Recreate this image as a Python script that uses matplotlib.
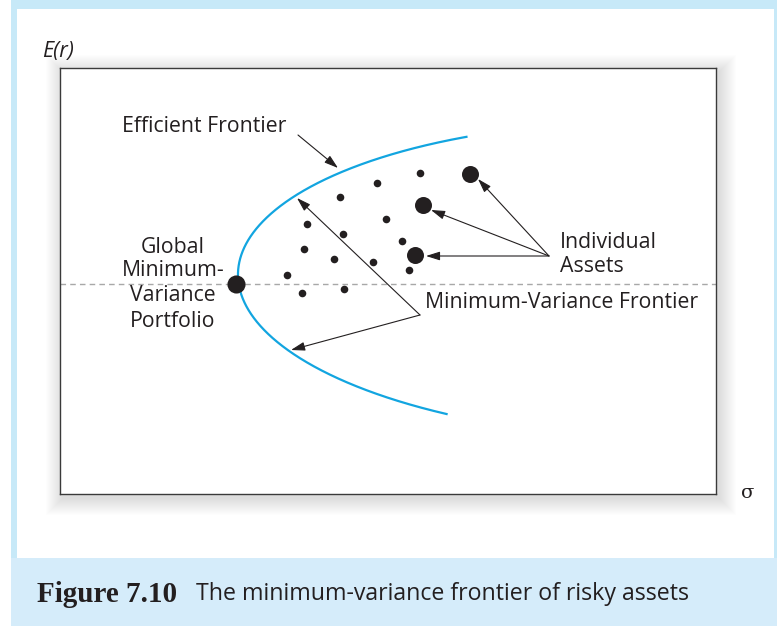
import numpy as np
import matplotlib
matplotlib.use("Agg")
import matplotlib.pyplot as plt
from matplotlib.patches import Rectangle

# ---------------- data (sigma, E(r)) in arbitrary chart units ----------------
frontier_sigma = [40.67, 37.67, 34.33, 31.0, 28.0, 26.0, 24.0, 22.33, 20.67, 19.33, 18.33, 17.67,
                  17.6,
                  18.0, 19.0, 20.67, 23.17, 25.67, 28.67, 32.0, 35.33, 38.67]
frontier_ret = [35.57, 35.13, 34.4, 33.4, 32.4, 31.23, 29.9, 28.73, 27.4, 25.73, 23.73, 21.4,
                21.0,
                19.4, 17.73, 16.07, 14.4, 12.73, 11.23, 9.9, 8.9, 7.9]

small_sigma = [36.0, 31.67, 28.0, 24.67, 32.57, 28.27, 34.23, 24.4, 27.43, 31.27, 34.93, 22.73, 24.23, 28.4]
small_ret = [32.13, 31.07, 29.73, 26.97, 27.5, 26.0, 25.33, 24.53, 23.5, 23.2, 22.37, 21.87, 20.13, 20.5]

large_sigma = [40.95, 36.3, 35.5]
large_ret = [32.05, 28.9, 23.87]

gmv_sigma = 17.6
gmv_ret = 21.0

W, H = 777, 626
fig = plt.figure(figsize=(W / 100, H / 100), dpi=100)
fig.patch.set_facecolor("white")

def fx(x):
    return x / W

def fy(y):
    return 1 - y / H

# ---------------- page decoration ----------------
frame_col = "#c7e9f8"
band_col = "#d5ecfa"
fig.patches.append(Rectangle((fx(11), fy(626)), fx(777 - 11), 626 / H, transform=fig.transFigure,
                             facecolor=frame_col, edgecolor="none", zorder=0))
fig.patches.append(Rectangle((fx(17), fy(558)), fx(777 - 17 - 3), (558 - 9) / H, transform=fig.transFigure,
                             facecolor="white", edgecolor="none", zorder=0.5))
fig.patches.append(Rectangle((fx(11), fy(626)), fx(777 - 11), (626 - 558) / H, transform=fig.transFigure,
                             facecolor=band_col, edgecolor="none", zorder=0.6))

# soft shadow behind the plot box
for i in range(1, 18):
    x0 = 60 + 3 - i
    fig.patches.append(Rectangle((fx(x0), fy(494 + 4 + i)), fx(656 + 2 * i), (426 + 2 * i) / H,
                                 transform=fig.transFigure, facecolor="black", edgecolor="none",
                                 alpha=0.009, zorder=0.7))

# ---------------- axes ----------------
ax = fig.add_axes([fx(60), fy(494), fx(656), 426 / H])
ax.set_xlim(0, 65.6)
ax.set_ylim(0, 42.6)
ax.set_xticks([])
ax.set_yticks([])
ax.set_facecolor("white")
for s in ax.spines.values():
    s.set_color("#3a3a3a")
    s.set_linewidth(1.0)
ax.set_zorder(2)

ink = "#231f20"
blue = "#12a5e0"

# dashed line through GMV
ax.axhline(gmv_ret, color="#a8a8a8", lw=1.0, dashes=(4, 3), zorder=1)

# smooth frontier: least-squares conic through the read points
xs = np.array(frontier_sigma)
ys = np.array(frontier_ret)
xm, ym = xs.mean(), ys.mean()
X, Y = xs - xm, ys - ym
M = np.column_stack([X ** 2, X * Y, Y ** 2, X, Y, np.ones_like(X)])
_, _, Vt = np.linalg.svd(M)
A, B, C, D, E, F = Vt[-1]
yy = np.linspace(ys.min() - 0.6, ys.max() + 0.8, 4000)
Yg = yy - ym
qa = A
qb = B * Yg + D
qc = C * Yg ** 2 + E * Yg + F
disc = np.clip(qb ** 2 - 4 * qa * qc, 0, None)
r1 = (-qb + np.sqrt(disc)) / (2 * qa) + xm
r2 = (-qb - np.sqrt(disc)) / (2 * qa) + xm
order = np.argsort(ys)
guess = np.interp(yy, ys[order], xs[order])
xx = np.where(np.abs(r1 - guess) < np.abs(r2 - guess), r1, r2)
# trim each branch where it reaches the read end points
upper_end = xs[np.argmax(ys)]
lower_end = xs[np.argmin(ys)]
keep = np.where(yy >= gmv_ret, xx <= upper_end, xx <= lower_end)
ax.plot(xx[keep], yy[keep], color=blue, lw=1.6, zorder=3)

# points
ax.scatter(small_sigma, small_ret, s=30, color=ink, zorder=4, linewidths=0)
ax.scatter(large_sigma, large_ret, s=150, color=ink, zorder=4, linewidths=0)
ax.scatter([gmv_sigma], [gmv_ret], s=170, color=ink, zorder=4, linewidths=0)

# arrows
def px2d(x, y):
    return ((x - 60) / 10, (494 - y) / 10)

aprops = dict(arrowstyle="-|>,head_length=0.7,head_width=0.22", color=ink, lw=0.8,
              shrinkA=0, shrinkB=0, mutation_scale=12)

def arrow(tail, head):
    ax.annotate("", xy=px2d(*head), xytext=px2d(*tail), arrowprops=aprops, zorder=5)

arrow((298, 135), (338, 168))
arrow((420, 315), (297, 198))
arrow((420, 315), (291, 350))
arrow((549, 256), (478, 179))
arrow((549, 256), (431, 210))
arrow((549, 256), (426, 256))

# labels
sans = ["Open Sans", "DejaVu Sans"]
fs = 15.3
tc = "#231f20"
fig.text(fx(122), fy(127), "Efficient Frontier", family=sans, fontsize=fs, color=tc, va="center", ha="left")
fig.text(fx(425), fy(303), "Minimum-Variance Frontier", family=sans, fontsize=fs, color=tc, va="center", ha="left")
fig.text(fx(560), fy(242), "Individual", family=sans, fontsize=fs, color=tc, va="center", ha="left")
fig.text(fx(560), fy(267), "Assets", family=sans, fontsize=fs, color=tc, va="center", ha="left")
for yy_, t in zip([247, 271, 296, 321], ["Global", "Minimum-", "Variance", "Portfolio"]):
    fig.text(fx(173), fy(yy_), t, family=sans, fontsize=fs, color=tc, va="center", ha="center")

fig.text(fx(42), fy(51), "E(r)", family=sans, style="italic", fontsize=15.5, color=tc, va="center", ha="left")
fig.text(fx(741), fy(493), "σ", family=["DejaVu Serif"], fontsize=14, color=tc, va="center", ha="left")

# caption
fig.text(fx(37), fy(594), "Figure 7.10", family=["Liberation Serif"], weight="bold", fontsize=21,
         color=tc, va="center", ha="left")
fig.text(fx(196), fy(594), "The minimum-variance frontier of risky assets", family=sans, fontsize=16.7,
         color=tc, va="center", ha="left")

fig.savefig("out.png", dpi=100, facecolor=fig.get_facecolor())
